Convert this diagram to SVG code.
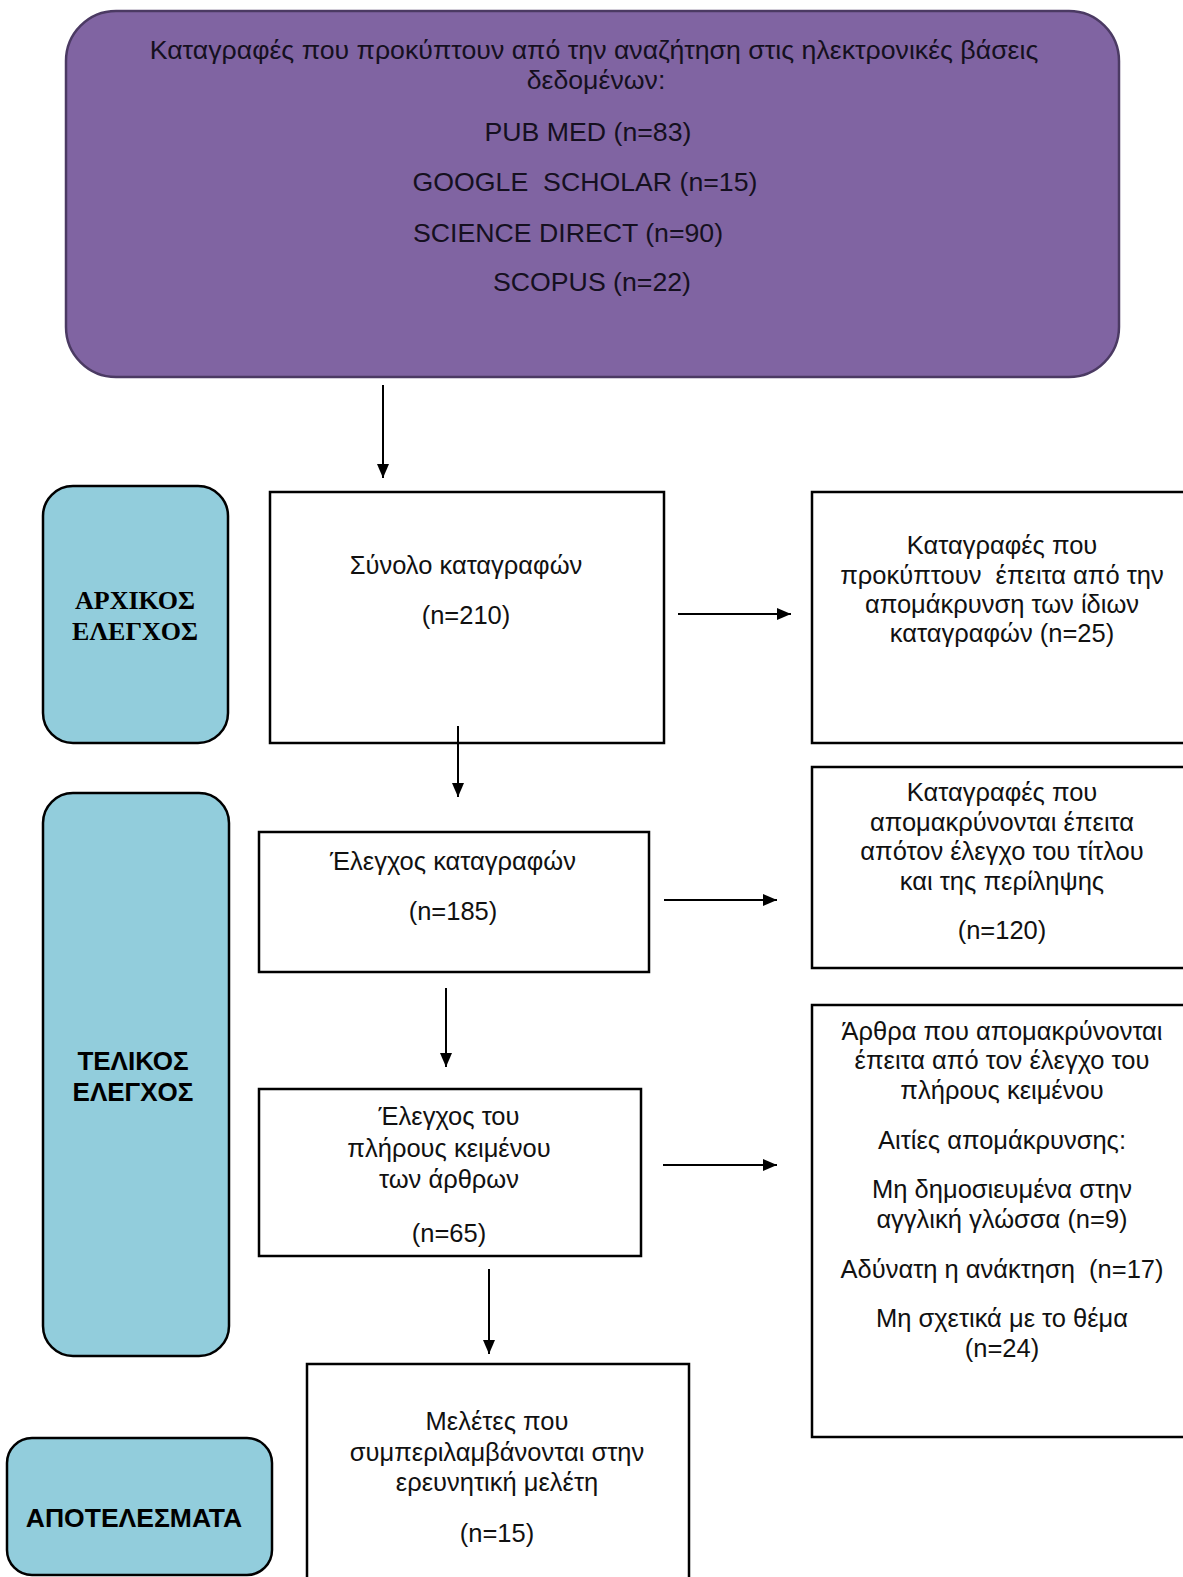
<svg xmlns="http://www.w3.org/2000/svg" width="1183" height="1577" viewBox="0 0 1183 1577">
<style>
.t{font-family:"Liberation Sans",Arial,sans-serif;font-size:25.5px;fill:#111;text-anchor:middle}
.p{font-family:"Liberation Sans",Arial,sans-serif;font-size:26.7px;fill:#151020;text-anchor:middle}
.box{fill:#fff;stroke:#000;stroke-width:2.5}
.lab{fill:#92CDDC;stroke:#000;stroke-width:2.5}
.lb{font-family:"Liberation Sans",Arial,sans-serif;font-size:26px;font-weight:bold;fill:#000;text-anchor:middle}
.ls{font-family:"Liberation Serif","Times New Roman",serif;font-size:26px;font-weight:bold;fill:#000;text-anchor:middle}
.c{stroke:#000;stroke-width:2;fill:none;marker-end:url(#ah)}
</style>
<defs>
<marker id="ah" markerUnits="userSpaceOnUse" markerWidth="14" markerHeight="12" refX="14" refY="6" orient="auto">
<path d="M0,0 L14,6 L0,12 z" fill="#000"/>
</marker>
</defs>
<rect width="1183" height="1577" fill="#fff"/>

<g id="sources">
<rect x="66" y="11" width="1053" height="366" rx="50" ry="50" fill="#8064A2" stroke="#4B3A63" stroke-width="2.5"/>
<text class="p" x="594" y="59">Καταγραφές που προκύπτουν από την αναζήτηση στις ηλεκτρονικές βάσεις</text>
<text class="p" x="596" y="89">δεδομένων:</text>
<text class="p" x="588" y="141">PUB MED (n=83)</text>
<text class="p" x="585" y="191" xml:space="preserve">GOOGLE  SCHOLAR (n=15)</text>
<text class="p" x="568" y="242">SCIENCE DIRECT (n=90)</text>
<text class="p" x="592" y="291">SCOPUS (n=22)</text>
</g>

<g id="label-initial">
<rect class="lab" x="43" y="486" width="185" height="257" rx="30" ry="30"/>
<text class="ls" x="135" y="609">ΑΡΧΙΚΟΣ</text>
<text class="ls" x="135" y="640">ΕΛΕΓΧΟΣ</text>
</g>

<g id="label-final">
<rect class="lab" x="43" y="793" width="186" height="563" rx="30" ry="30"/>
<text class="lb" x="133" y="1070">ΤΕΛΙΚΟΣ</text>
<text class="lb" x="133" y="1101">ΕΛΕΓΧΟΣ</text>
</g>

<g id="label-results">
<rect class="lab" x="7" y="1438" width="265" height="137" rx="25" ry="25"/>
<text class="lb" x="134" y="1527" style="font-size:26.5px">ΑΠΟΤΕΛΕΣΜΑΤΑ</text>
</g>

<g id="total">
<rect class="box" x="270" y="492" width="394" height="251"/>
<text class="t" x="466" y="574">Σύνολο καταγραφών</text>
<text class="t" x="466" y="624">(n=210)</text>
</g>

<g id="duplicates">
<rect class="box" x="812" y="492" width="400" height="251"/>
<text class="t" x="1002" y="554">Καταγραφές που</text>
<text class="t" x="1002" y="584" xml:space="preserve">προκύπτουν  έπειτα από την</text>
<text class="t" x="1002" y="613">απομάκρυνση των ίδιων</text>
<text class="t" x="1002" y="642">καταγραφών (n=25)</text>
</g>

<g id="screening">
<rect class="box" x="259" y="832" width="390" height="140"/>
<text class="t" x="453" y="870">Έλεγχος καταγραφών</text>
<text class="t" x="453" y="920">(n=185)</text>
</g>

<g id="excluded-title">
<rect class="box" x="812" y="767" width="400" height="201"/>
<text class="t" x="1002" y="801">Καταγραφές που</text>
<text class="t" x="1002" y="831">απομακρύνονται έπειτα</text>
<text class="t" x="1002" y="860">απότον έλεγχο του τίτλου</text>
<text class="t" x="1002" y="890">και της περίληψης</text>
<text class="t" x="1002" y="939">(n=120)</text>
</g>

<g id="fulltext">
<rect class="box" x="259" y="1089" width="382" height="167"/>
<text class="t" x="449" y="1125">Έλεγχος του</text>
<text class="t" x="449" y="1157">πλήρους κειμένου</text>
<text class="t" x="449" y="1188">των άρθρων</text>
<text class="t" x="449" y="1242">(n=65)</text>
</g>

<g id="excluded-fulltext">
<rect class="box" x="812" y="1005" width="400" height="432"/>
<text class="t" x="1002" y="1040">Άρθρα που απομακρύνονται</text>
<text class="t" x="1002" y="1069">έπειτα από τον έλεγχο του</text>
<text class="t" x="1002" y="1099">πλήρους κειμένου</text>
<text class="t" x="1002" y="1149">Αιτίες απομάκρυνσης:</text>
<text class="t" x="1002" y="1198">Μη δημοσιευμένα στην</text>
<text class="t" x="1002" y="1228">αγγλική γλώσσα (n=9)</text>
<text class="t" x="1002" y="1278" xml:space="preserve">Αδύνατη η ανάκτηση  (n=17)</text>
<text class="t" x="1002" y="1327">Μη σχετικά με το θέμα</text>
<text class="t" x="1002" y="1357">(n=24)</text>
</g>

<g id="included">
<rect class="box" x="307" y="1364" width="382" height="230"/>
<text class="t" x="497" y="1430">Μελέτες που</text>
<text class="t" x="497" y="1461">συμπεριλαμβάνονται στην</text>
<text class="t" x="497" y="1491">ερευνητική μελέτη</text>
<text class="t" x="497" y="1542">(n=15)</text>
</g>

<g id="connectors">
<line class="c" x1="383" y1="385" x2="383" y2="478"/>
<line class="c" x1="678" y1="614" x2="791" y2="614"/>
<line class="c" x1="458" y1="726" x2="458" y2="797"/>
<line class="c" x1="664" y1="900" x2="777" y2="900"/>
<line class="c" x1="446" y1="988" x2="446" y2="1067"/>
<line class="c" x1="663" y1="1165" x2="777" y2="1165"/>
<line class="c" x1="489" y1="1269" x2="489" y2="1354"/>
</g>
</svg>
